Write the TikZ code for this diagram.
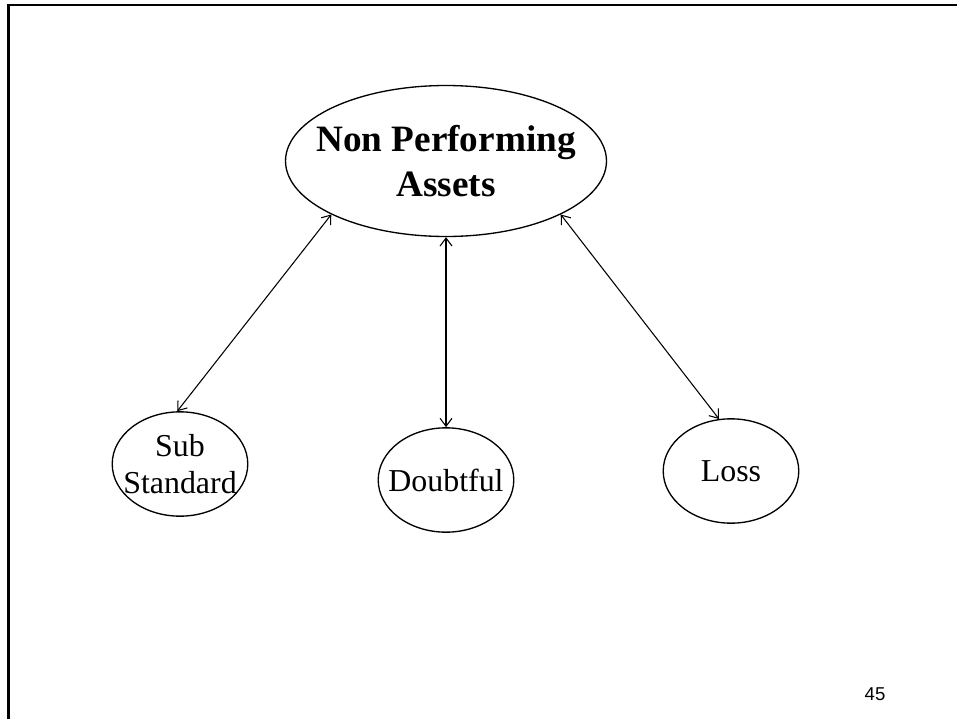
\documentclass[tikz,border=0pt]{standalone}
\usepackage{fontspec}
\setmainfont{Liberation Serif}
\newfontfamily\slidesans{Liberation Sans}
\usetikzlibrary{shapes.geometric, arrows.meta}

\begin{document}
\begin{tikzpicture}[x=0.7524pt, y=-0.7524pt,
        bubble/.style={ellipse, draw, line width=1pt, inner xsep=-30pt, inner ysep=-8pt,
                       align=center, minimum width=102pt, minimum height=78.5pt,
                       font=\fontsize{24}{28}\selectfont},
        link/.style={{Straight Barb[length=6pt, width=9pt]}-{Straight Barb[length=6pt, width=9pt]},
                     line width=0.8pt}]
    \useasboundingbox (0,0) rectangle (957,719);

    % Slide frame (top and left edges only)
    \draw[line width=2pt] (8.5,719) -- (8.5,5) -- (957,5);

    % Root class
    \node[bubble, minimum width=241.5pt, minimum height=113.6pt,
          font=\fontsize{28}{34}\selectfont\bfseries] (npa) at (446,161)
          {Non Performing\\Assets};

    % The three kinds of NPA
    \node[bubble] (sub)  at (180,464) {Sub\\Standard};
    \node[bubble] (dbt)  at (446,480) {Doubtful};
    \node[bubble] (loss) at (731,471) {Loss};

    % Links root <-> kinds
    \draw[link] (npa.205)   -- (sub.93);
    \draw[link] (npa.south) -- (dbt.north);
    \draw[link] (npa.335)   -- (loss.103);

    % Slide number
    \node[font=\slidesans\fontsize{14}{16}\selectfont] (pgno) at (875,694) {45};
\end{tikzpicture}
\end{document}
